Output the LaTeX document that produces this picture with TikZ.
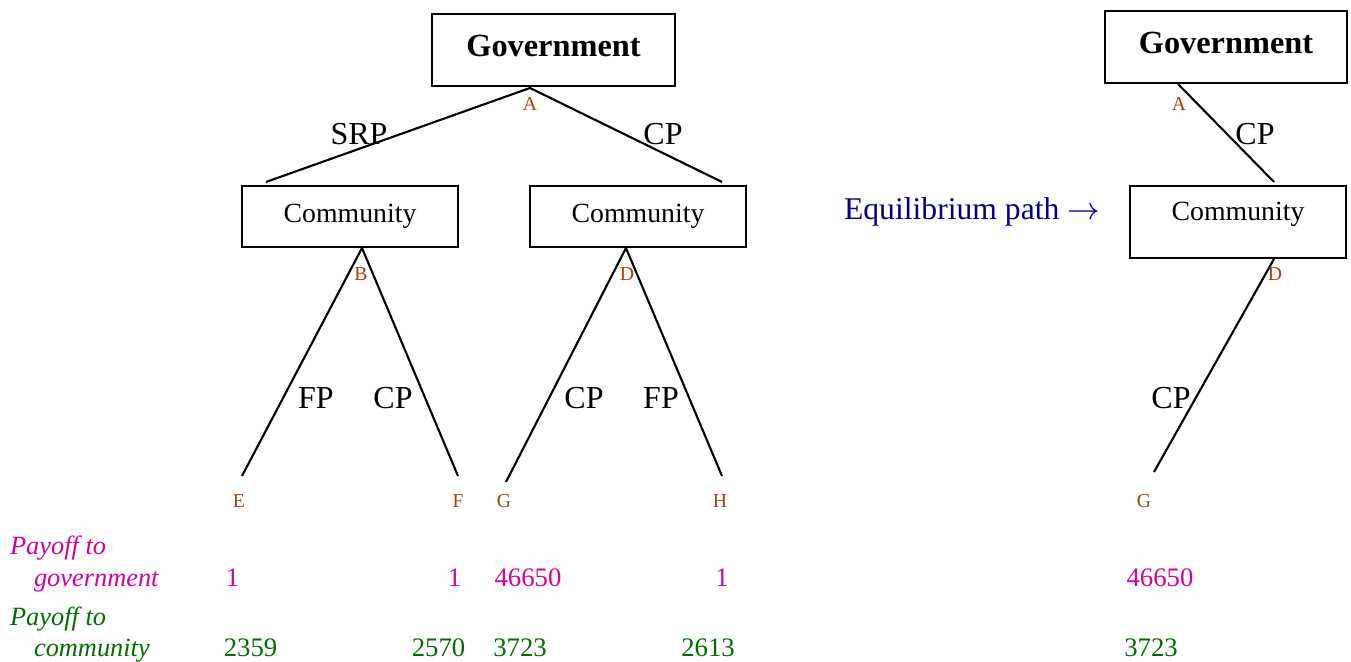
\documentclass[tikz,border=0pt]{standalone}
\usepackage{fontspec}
\setmainfont{Liberation Serif}
\usetikzlibrary{positioning}
\definecolor{leafbrown}{RGB}{165,65,15}
\definecolor{govpink}{RGB}{210,0,160}
\definecolor{comgreen}{RGB}{0,110,0}
\definecolor{pathblue}{RGB}{0,0,140}

\begin{document}
\begin{tikzpicture}[x=0.01cm,y=-0.01cm,line width=0.6pt,
    govbox/.style={draw,minimum width=2.42cm,minimum height=0.72cm,text depth=2.3pt,font=\fontsize{9.2}{11}\selectfont\bfseries},
    combox/.style={draw,minimum width=2.16cm,minimum height=0.61cm,font=\fontsize{7.9}{9}\selectfont},
    move/.style={font=\fontsize{9.1}{11}\selectfont},
    tag/.style={text=leafbrown,font=\fontsize{5.6}{7}\selectfont},
    gpay/.style={anchor=base,text=govpink,font=\fontsize{7.6}{9}\selectfont},
    cpay/.style={anchor=base,text=comgreen,font=\fontsize{7.6}{9}\selectfont},
    paylabel/.style={anchor=base west,inner sep=0pt,font=\fontsize{7.5}{9}\selectfont\itshape}]
    \useasboundingbox (0,0) rectangle (1351,662);

    % full game
    \node[govbox] (govL) at (553.5,50) {Government};
    \node[combox] (comB) at (350,216.5) {Community};
    \node[combox] (comD) at (638,216.5) {Community};

    \coordinate (A) at (530,88);
    \coordinate (AB) at (266,182);
    \coordinate (AD) at (722,182);
    \coordinate (B) at (362,248);
    \coordinate (E) at (242,476);
    \coordinate (F) at (458,476);
    \coordinate (D) at (626,248);
    \coordinate (G) at (506,482);
    \coordinate (H) at (722,476);

    \draw (AB) -- (A) -- (AD);
    \draw (E) -- (B) -- (F);
    \draw (G) -- (D) -- (H);

    \node[move] (mSRP) at (359,134) {SRP};
    \node[move] (mCPa) at (663,134) {CP};
    \node[move] (mFPb) at (316,398) {FP};
    \node[move] (mCPb) at (393,398) {CP};
    \node[move] (mCPd) at (584,398) {CP};
    \node[move] (mFPd) at (661,398) {FP};

    \node[tag] (tA) at (530,104) {A};
    \node[tag] (tB) at (361,274) {B};
    \node[tag] (tD) at (627,274) {D};
    \node[tag] (tE) at (239,501) {E};
    \node[tag] (tF) at (458,501) {F};
    \node[tag] (tG) at (504,501) {G};
    \node[tag] (tH) at (720,501) {H};

    % payoffs
    \node[paylabel,text=govpink] (pg1) at (9,555) {Payoff to};
    \node[paylabel,text=govpink] (pg2) at (33,587) {government};
    \node[paylabel,text=comgreen] (pc1) at (9,626) {Payoff to};
    \node[paylabel,text=comgreen] (pc2) at (33,657) {community};

    \node[gpay] (gE) at (232.5,587) {1};
    \node[gpay] (gF) at (454.5,587) {1};
    \node[gpay] (gG) at (528,587) {46650};
    \node[gpay] (gH) at (722,587) {1};
    \node[cpay] (cE) at (250.5,657) {2359};
    \node[cpay] (cF) at (438.5,657) {2570};
    \node[cpay] (cG) at (520,657) {3723};
    \node[cpay] (cH) at (708,657) {2613};

    % equilibrium path
    \node[anchor=base west,inner sep=0pt,text=pathblue,font=\fontsize{9}{11}\selectfont] (eq) at (843,220) {Equilibrium path $\rightarrow$};

    \node[govbox] (govR) at (1226,47) {Government};
    \node[combox,minimum height=0.72cm,text depth=6.3pt] (comR) at (1238,222) {Community};

    \coordinate (Ar) at (1178,84);
    \coordinate (ADr) at (1274,182);
    \coordinate (Dr) at (1274,259);
    \coordinate (Gr) at (1154,472);
    \draw (Ar) -- (ADr);
    \draw (Dr) -- (Gr);

    \node[move] (mCPr1) at (1255,134) {CP};
    \node[move] (mCPr2) at (1171,398) {CP};
    \node[tag] (tAr) at (1179,104) {A};
    \node[tag] (tDr) at (1275,274) {D};
    \node[tag] (tGr) at (1144,501) {G};

    \node[gpay] (gGr) at (1160,587) {46650};
    \node[cpay] (cGr) at (1151,657) {3723};
\end{tikzpicture}
\end{document}
